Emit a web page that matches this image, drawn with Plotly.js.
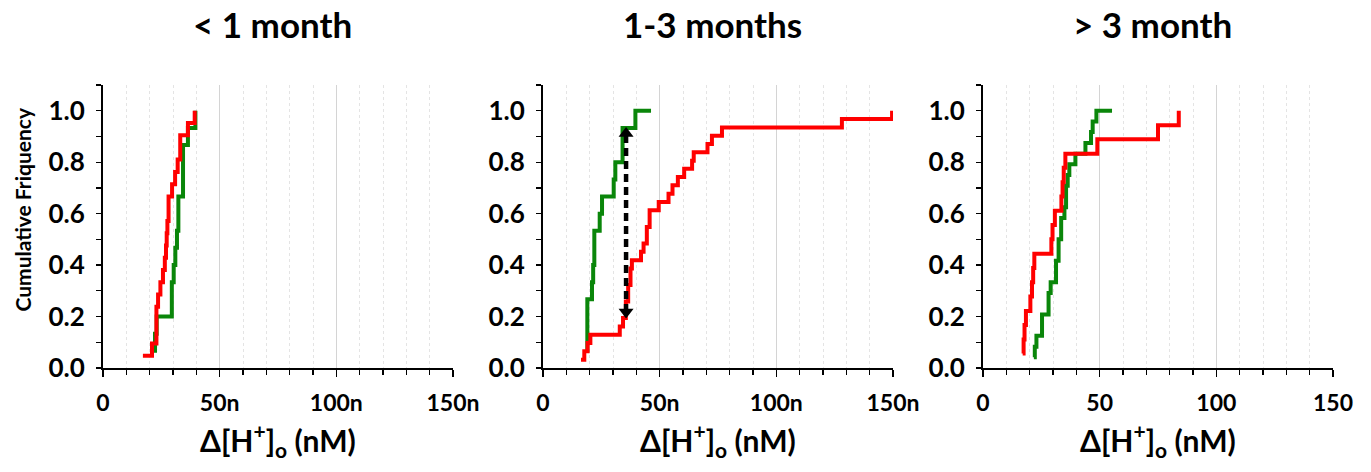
<!DOCTYPE html>
<html>
<head>
<meta charset="utf-8">
<script src="https://cdn.plot.ly/plotly-3.0.1.min.js"></script>
<style>html,body{margin:0;padding:0;background:#fff;}#chart{width:1371px;height:472px;}</style>
</head>
<body>
<div id="chart"></div>
<script>
// ---- data ----
const panelTitles = ["< 1 month", "1-3 months", "> 3 month"];
const tickVals = [0, 50, 100, 150];
const tickTextN = ["0", "50n", "100n", "150n"];
const tickTextPlain = ["0", "50", "100", "150"];
const yTickVals = [0, 0.2, 0.4, 0.6, 0.8, 1.0];
const yTickText = ['0.0', '0.2', '0.4', '0.6', '0.8', '1.0'];

// Panel 1 (< 1 month)
const p1GreenX = [21.5, 22.3, 23.0, 29.5, 30.3, 31.0, 31.7, 32.3, 34.3, 36.4, 39.6];
const p1GreenY = [0.067, 0.133, 0.2, 0.333, 0.4, 0.467, 0.533, 0.667, 0.867, 0.933, 1.0];
const p1RedX = [17.1, 21.0, 22.9, 23.6, 24.6, 25.7, 26.5, 27.0, 27.3, 27.6, 28.1, 29.6, 30.9, 32.0, 33.1, 36.4, 39.3];
const p1RedY = [0.048, 0.095, 0.238, 0.286, 0.333, 0.381, 0.429, 0.476, 0.524, 0.571, 0.667, 0.714, 0.762, 0.810, 0.905, 0.952, 1.0];

// Panel 2 (1-3 months)
const p2GreenX = [18.9, 19.0, 21.0, 21.5, 22.0, 24.3, 25.3, 30.3, 31.0, 34.1, 39.6, 46.3];
const p2GreenY = [0.067, 0.267, 0.333, 0.4, 0.533, 0.6, 0.667, 0.733, 0.8, 0.933, 1.0, 1.0];
const p2RedX = [16.3, 17.7, 19.1, 20.3, 32.9, 34.3, 35.5, 36.5, 37.5, 38.1, 42.0, 43.1, 44.5, 45.7, 49.6, 53.8, 55.5, 57.8, 60.5, 63.9, 64.6, 70.5, 72.4, 76.7, 128.1, 149.6];
const p2RedY = [0.032, 0.065, 0.097, 0.129, 0.161, 0.194, 0.258, 0.323, 0.387, 0.419, 0.452, 0.484, 0.548, 0.613, 0.645, 0.677, 0.710, 0.742, 0.774, 0.806, 0.839, 0.871, 0.903, 0.935, 0.968, 1.0];
const arrowX = [35.6, 35.6];
const arrowY = [0.218, 0.911];

// Panel 3 (> 3 month)
const p3GreenX = [21.8, 22.2, 22.9, 25.3, 28.1, 29.0, 31.3, 32.4, 33.5, 34.9, 35.6, 36.3, 37.0, 39.6, 43.9, 46.3, 47.0, 48.6, 55.3];
const p3GreenY = [0.042, 0.083, 0.125, 0.208, 0.292, 0.333, 0.417, 0.5, 0.583, 0.625, 0.708, 0.75, 0.792, 0.833, 0.875, 0.917, 0.958, 1.0, 1.0];
const p3RedX = [17.0, 17.4, 17.8, 18.4, 20.3, 21.0, 21.5, 22.0, 29.3, 29.8, 30.8, 33.6, 34.1, 34.6, 35.3, 49.0, 75.0, 83.9];
const p3RedY = [0.056, 0.111, 0.167, 0.222, 0.278, 0.333, 0.389, 0.444, 0.5, 0.556, 0.611, 0.667, 0.722, 0.778, 0.833, 0.889, 0.944, 1.0];

// ---- styling ----
const GREEN = '#0a860a';
const RED = '#ff0000';
const LW = 4;
const FAM = 'Lato, "Open Sans", sans-serif';

function step(x, y, color, xa, ya) {
  return {x: x, y: y, type: 'scatter', mode: 'lines', line: {shape: 'hv', color: color, width: LW},
          xaxis: xa, yaxis: ya, hoverinfo: 'skip', showlegend: false};
}

const traces = [
  step(p1GreenX, p1GreenY, GREEN, 'x', 'y'),
  step(p1RedX, p1RedY, RED, 'x', 'y'),
  step(p2GreenX, p2GreenY, GREEN, 'x2', 'y2'),
  step(p2RedX, p2RedY, RED, 'x2', 'y2'),
  {x: arrowX, y: arrowY, type: 'scatter', mode: 'lines+markers', xaxis: 'x2', yaxis: 'y2',
   line: {color: '#000', width: 4.5, dash: '8px,5px'},
   marker: {symbol: ['triangle-down', 'triangle-up'], size: 13, color: '#000'},
   showlegend: false, hoverinfo: 'skip'},
  step(p3GreenX, p3GreenY, GREEN, 'x3', 'y3'),
  step(p3RedX, p3RedY, RED, 'x3', 'y3')
];

const xTickFont = {family: FAM, size: 23, color: '#000', weight: 'bold'};
const yTickFont = {family: FAM, size: 26, color: '#000', weight: 'bold'};

function xAxis(domain, ticktext, anchor) {
  return {
    domain: domain, range: [0, 150], anchor: anchor,
    tickvals: tickVals, ticktext: ticktext,
    ticks: 'outside', ticklen: 7, tickwidth: 1.5, tickcolor: '#000',
    showline: true, linecolor: '#000', linewidth: 2,
    showgrid: true, gridcolor: '#d4d4d4', gridwidth: 1,
    minor: {dtick: 10, ticks: 'outside', ticklen: 5, tickcolor: '#000', tickwidth: 1.2,
            showgrid: true, gridcolor: '#e4e4e4', griddash: 'dot', gridwidth: 1},
    zeroline: false, tickfont: xTickFont, ticklabelstandoff: 6, fixedrange: true
  };
}
function yAxis(anchor) {
  return {
    range: [0, 1.1], anchor: anchor, domain: [0, 1],
    tickvals: yTickVals, ticktext: yTickText,
    ticks: 'outside', ticklen: 5, tickwidth: 1.2, tickcolor: '#000',
    minor: {dtick: 0.1, ticks: 'outside', ticklen: 5, tickcolor: '#000', tickwidth: 1.2, showgrid: false},
    showline: true, linecolor: '#000', linewidth: 2,
    showgrid: false, zeroline: false, tickfont: yTickFont, ticklabelstandoff: 6, fixedrange: true
  };
}

const W = 1371;
const dom1 = [103 / W, 453 / W];
const dom2 = [543 / W, 893 / W];
const dom3 = [983 / W, 1333 / W];

const titleFont = {family: FAM, size: 35, color: '#000', weight: 'bold'};
const xTitleFont = {family: FAM, size: 30, color: '#000', weight: 'bold'};
const xTitleText = 'Δ[H<sup>+</sup>]<sub>o</sub> (nM)';

const annotations = [];
[dom1, dom2, dom3].forEach((d, i) => {
  const cx = (d[0] + d[1]) / 2;
  annotations.push({text: panelTitles[i], x: cx - 0.004, y: 1.215, xref: 'paper', yref: 'paper',
                    xanchor: 'center', yanchor: 'middle', showarrow: false, font: titleFont});
  annotations.push({text: xTitleText, x: cx, y: -0.255, xref: 'paper', yref: 'paper',
                    xanchor: 'center', yanchor: 'middle', showarrow: false, font: xTitleFont});
});
annotations.push({text: 'Cumulative Friquency', x: 23 / W, y: 0.56, xref: 'paper', yref: 'paper',
                  xanchor: 'center', yanchor: 'middle', textangle: -90, showarrow: false,
                  font: {family: FAM, size: 21, color: '#000', weight: 'bold'}});

const layout = {
  width: 1371, height: 472,
  margin: {l: 0, r: 0, t: 85, b: 104, pad: 0},
  paper_bgcolor: '#fff', plot_bgcolor: 'rgba(0,0,0,0)',
  showlegend: false,
  xaxis: xAxis(dom1, tickTextN, 'y'),
  yaxis: yAxis('x'),
  xaxis2: xAxis(dom2, tickTextN, 'y2'),
  yaxis2: yAxis('x2'),
  xaxis3: xAxis(dom3, tickTextPlain, 'y3'),
  yaxis3: yAxis('x3'),
  annotations: annotations
};

Plotly.newPlot('chart', traces, layout, {displayModeBar: false, staticPlot: true});
</script>
</body>
</html>
